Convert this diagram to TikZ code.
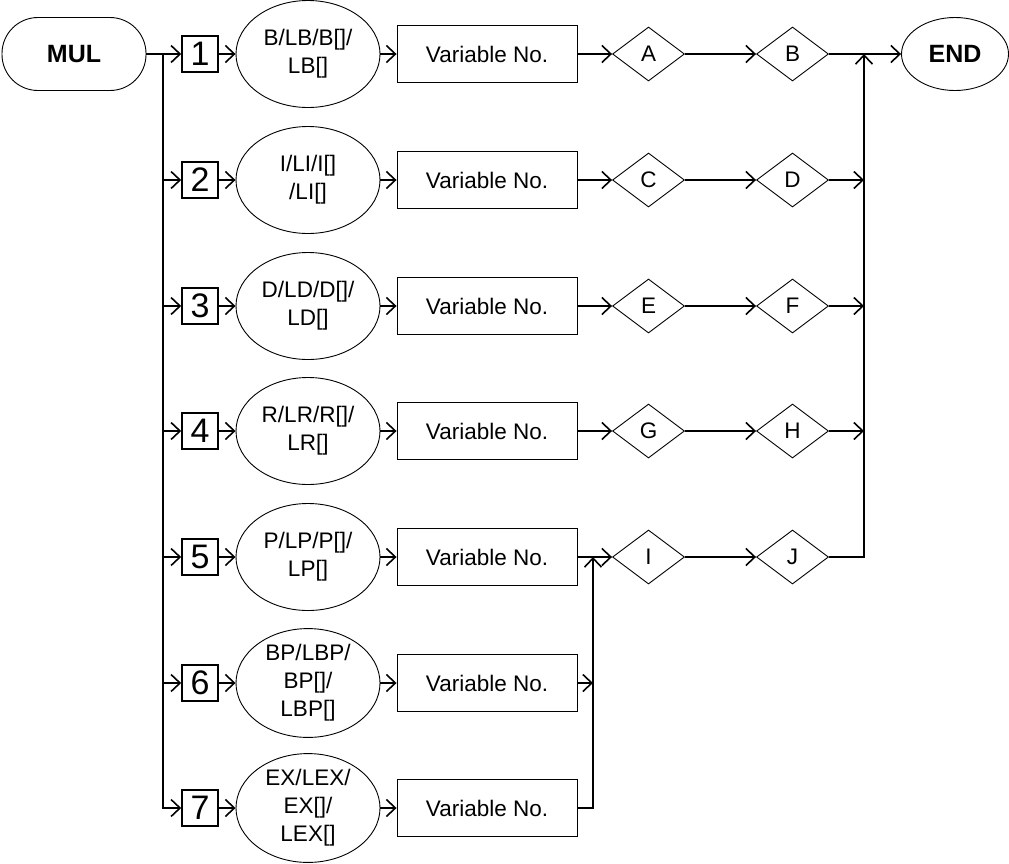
\documentclass[tikz,border=0pt]{standalone}
\usepackage{fontspec}
\setmainfont{Liberation Sans}
\usetikzlibrary{arrows.meta,shapes.geometric}
\begin{document}
\begin{tikzpicture}[x=1pt,y=-1pt,
  conn/.style={line width=1.6pt},
  arr/.style={conn,-{Straight Barb[length=9pt,width=17pt]}},
  lbl/.style={font=\fontsize{22.5}{28}\selectfont},
  numbox/.style={draw,line width=1.6pt,minimum width=36pt,minimum height=36pt,inner sep=0pt,font=\fontsize{34}{38}\selectfont},
  oval/.style={draw,ellipse,line width=0.9pt,minimum width=144pt,minimum height=107pt,inner sep=0pt,align=center,lbl},
  varbox/.style={draw,line width=0.9pt,minimum width=180pt,minimum height=57pt,inner sep=0pt,lbl},
  dia/.style={draw,diamond,aspect=1.333,line width=0.9pt,minimum width=72pt,minimum height=54pt,inner sep=0pt,lbl},
  term/.style={draw,line width=0.9pt,inner sep=0pt,font=\bfseries\fontsize{25}{30}\selectfont}
]
\useasboundingbox (0,0) rectangle (1009,863);

\node[term,rounded corners=36pt,minimum width=144pt,minimum height=73pt] (mul) at (74,54) {MUL};
\node[term,ellipse,minimum width=107pt,minimum height=73pt] (end) at (955,54) {END};

% number boxes
\node[numbox] (b1) at (200,54) {1};
\node[numbox] (b2) at (200,180) {2};
\node[numbox] (b3) at (200,306) {3};
\node[numbox] (b4) at (200,431) {4};
\node[numbox] (b5) at (200,557) {5};
\node[numbox] (b6) at (200,683) {6};
\node[numbox] (b7) at (200,808) {7};

% ellipses
\node[oval] (e1) at (308,54) {B/LB/B[]/\\LB[]};
\node[oval] (e2) at (308,180) {I/LI/I[]\\/LI[]};
\node[oval] (e3) at (308,306) {D/LD/D[]/\\LD[]};
\node[oval] (e4) at (308,431) {R/LR/R[]/\\LR[]};
\node[oval] (e5) at (308,557) {P/LP/P[]/\\LP[]};
\node[oval] (e6) at (308,683) {BP/LBP/\\BP[]/\\LBP[]};
\node[oval] (e7) at (308,808) {EX/LEX/\\EX[]/\\LEX[]};

% variable boxes
\node[varbox] (v1) at (487,54) {Variable No.};
\node[varbox] (v2) at (487,180) {Variable No.};
\node[varbox] (v3) at (487,306) {Variable No.};
\node[varbox] (v4) at (487,431) {Variable No.};
\node[varbox] (v5) at (487,557) {Variable No.};
\node[varbox] (v6) at (487,683) {Variable No.};
\node[varbox] (v7) at (487,808) {Variable No.};

% diamonds
\node[dia] (dA) at (648.5,54) {A};
\node[dia] (dB) at (792.5,54) {B};
\node[dia] (dC) at (648.5,180) {C};
\node[dia] (dD) at (792.5,180) {D};
\node[dia] (dE) at (648.5,306) {E};
\node[dia] (dF) at (792.5,306) {F};
\node[dia] (dG) at (648.5,431) {G};
\node[dia] (dH) at (792.5,431) {H};
\node[dia] (dI) at (648.5,557) {I};
\node[dia] (dJ) at (792.5,557) {J};

\coordinate (ltop) at (163,54);
\coordinate (rtop) at (864,54);
\coordinate (mid) at (593,557);

% left bus
\draw[arr] (mul.east) -- (b1.west);
\draw[arr] (ltop) |- (b7.west);
\foreach \k in {2,...,6} {\draw[arr] (ltop |- b\k.west) -- (b\k.west);}

% box -> ellipse -> variable
\foreach \k in {1,...,7} {
  \draw[arr] (b\k.east) -- (e\k.west);
  \draw[arr] (e\k.east) -- (v\k.west);
}

% diamonds
\draw[arr] (v1.east) -- (dA.west);
\draw[arr] (v2.east) -- (dC.west);
\draw[arr] (v3.east) -- (dE.west);
\draw[arr] (v4.east) -- (dG.west);
\draw[arr] (v5.east) -- (dI.west);
\draw[arr] (dA.east) -- (dB.west);
\draw[arr] (dC.east) -- (dD.west);
\draw[arr] (dE.east) -- (dF.west);
\draw[arr] (dG.east) -- (dH.west);
\draw[arr] (dI.east) -- (dJ.west);

% merge of rows 6,7 into row 5
\draw[arr] (v6.east) -- (mid |- v6.east);
\draw[arr] (v7.east) -| (mid);

% right bus
\draw[arr] (dB.east) -- (end.west);
\draw[arr] (dD.east) -- (rtop |- dD.east);
\draw[arr] (dF.east) -- (rtop |- dF.east);
\draw[arr] (dH.east) -- (rtop |- dH.east);
\draw[arr] (dJ.east) -| (rtop);
\end{tikzpicture}
\end{document}
